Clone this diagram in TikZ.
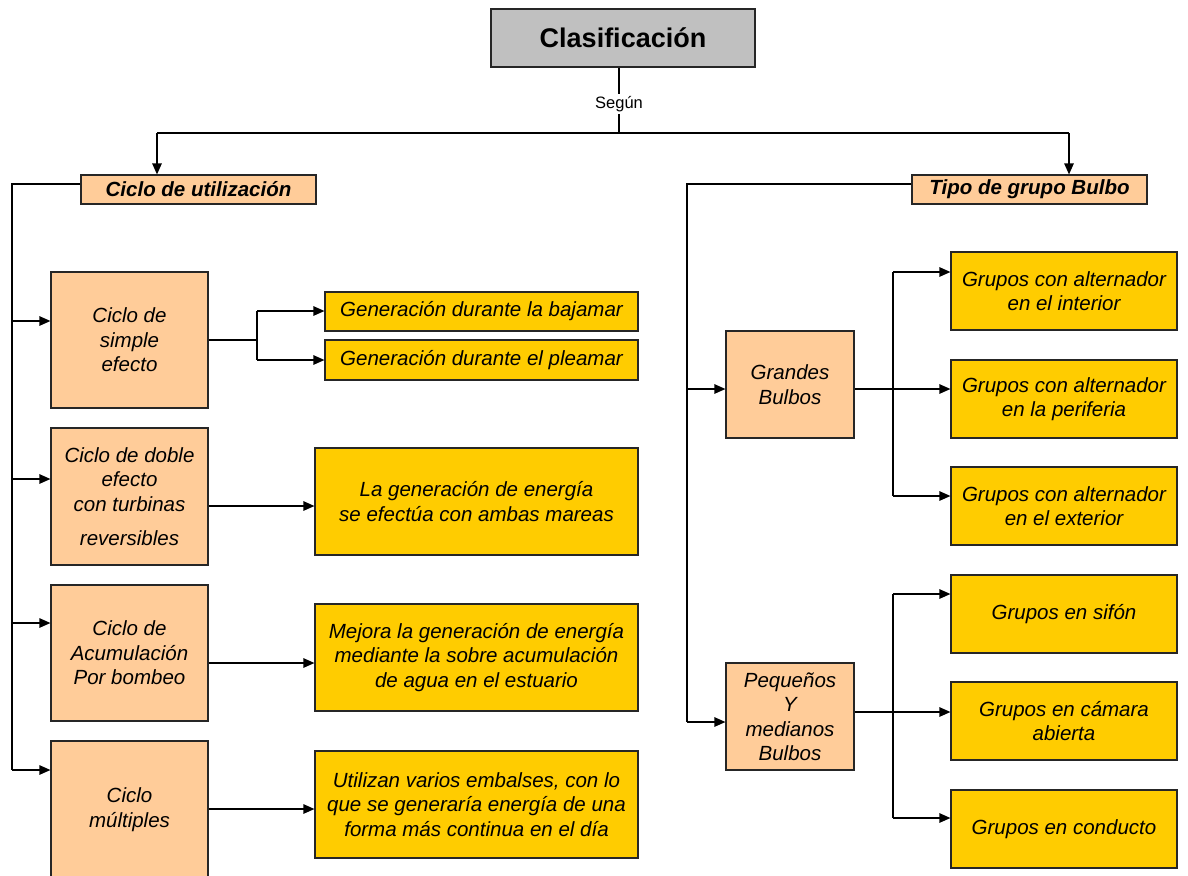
\documentclass[tikz,border=0pt]{standalone}
\usepackage{fontspec}
\setmainfont{Liberation Sans}
\usetikzlibrary{arrows.meta}
\definecolor{peach}{HTML}{FFCC99}
\definecolor{gold}{HTML}{FFCC00}
\definecolor{titlegray}{HTML}{C0C0C0}

\begin{document}
\begin{tikzpicture}[x=1pt,y=-1pt,
  box/.style={draw=black!85,line width=1.2pt,inner sep=0pt,align=center,
    font=\fontsize{20.5}{24.5}\selectfont\itshape},
  cyclebox/.style={box,fill=peach},
  resbox/.style={box,fill=gold},
  headbox/.style={box,fill=peach,font=\fontsize{20.5}{24.5}\selectfont\bfseries\itshape},
  ln/.style={line width=1.2pt},
  arr/.style={ln,-{Triangle[length=11pt,width=9.5pt]}}]
\useasboundingbox (0,0) rectangle (1188,875);
\begin{scope}
\clip (0,0) rectangle (1188,875);

% title and first split
\node[box,fill=titlegray,minimum width=264pt,minimum height=58pt,
      font=\fontsize{27}{30}\selectfont\bfseries] (title) at (623,38) {Clasificación};
\node[font=\fontsize{16.5}{18}\selectfont,inner sep=2pt] (segun) at (619,104) {Según};
\node[headbox,minimum width=235pt,minimum height=29pt] (util) at (198.5,189.5) {Ciclo de utilización};
\node[headbox,minimum width=235pt,minimum height=29pt] (tipo) at (1029.5,189.5) {Tipo de grupo Bulbo};

\coordinate (hub) at (619,133);
\coordinate (hubL) at (157,133);
\coordinate (hubR) at (1069,133);
\draw[ln] (title.south -| hub) -- (segun.north);
\draw[ln] (segun.south) -- (hub);
\draw[ln] (hubL) -- (hubR);
\draw[arr] (hubL) -- (util.north -| hubL);
\draw[arr] (hubR) -- (tipo.north -| hubR);

% operating cycles
\node[cyclebox,minimum width=157pt,minimum height=136pt] (c1) at (129.5,340) {Ciclo de\\simple\\efecto};
\node[cyclebox,minimum width=157pt,minimum height=137pt] (c2) at (129.5,496.5) {Ciclo de doble\\efecto\\con turbinas\\[10pt]reversibles};
\node[cyclebox,minimum width=157pt,minimum height=136pt] (c3) at (129.5,653) {Ciclo de\\Acumulación\\Por bombeo};
\node[cyclebox,minimum width=157pt,minimum height=137pt] (c4) at (129.5,809.5) {Ciclo\\múltiples};

\node[resbox,minimum width=313pt,minimum height=39pt] (r1a) at (481.5,311.5) {Generación durante la bajamar};
\node[resbox,minimum width=313pt,minimum height=40pt] (r1b) at (481.5,360) {Generación durante el pleamar};
\node[resbox,minimum width=323pt,minimum height=107pt] (r2) at (476.5,501.5) {La generación de energía\\se efectúa con ambas mareas};
\node[resbox,minimum width=323pt,minimum height=107pt] (r3) at (476.5,657.5) {Mejora la generación de energía\\mediante la sobre acumulación\\de agua en el estuario};
\node[resbox,minimum width=323pt,minimum height=107pt] (r4) at (476.5,804.5) {Utilizan varios embalses, con lo\\que se generaría energía de una\\forma más continua en el día};

\coordinate (lt) at (12,184);
\draw[ln] (util.west |- lt) -- (lt) -- (12,770);
\foreach \n/\y in {c1/321,c2/479,c3/623,c4/770}
  \draw[arr] (12,\y) -- (\n.west |- 0,\y);

\coordinate (s1) at (257,340);
\draw[ln] (c1.east |- s1) -- (s1);
\draw[ln] (257,311) -- (257,360);
\draw[arr] (257,311) -- (r1a.west |- 0,311);
\draw[arr] (257,360) -- (r1b.west |- 0,360);
\draw[arr] (c2.east |- 0,506) -- (r2.west |- 0,506);
\draw[arr] (c3.east |- 0,663) -- (r3.west |- 0,663);
\draw[arr] (c4.east |- 0,809) -- (r4.west |- 0,809);

% bulb unit types
\node[cyclebox,minimum width=128pt,minimum height=107pt] (gb) at (790,384.5) {Grandes\\Bulbos};
\node[cyclebox,minimum width=128pt,minimum height=107pt] (pb) at (790,716.5) {Pequeños\\Y\\medianos\\Bulbos};

\node[resbox,minimum width=226pt,minimum height=78pt] (g1) at (1064,291) {Grupos con alternador\\en el interior};
\node[resbox,minimum width=226pt,minimum height=78pt] (g2) at (1064,399) {Grupos con alternador\\en la periferia};
\node[resbox,minimum width=226pt,minimum height=78pt] (g3) at (1064,506) {Grupos con alternador\\en el exterior};
\node[resbox,minimum width=226pt,minimum height=78pt] (g4) at (1064,614) {Grupos en sifón};
\node[resbox,minimum width=226pt,minimum height=78pt] (g5) at (1064,721) {Grupos en cámara\\abierta};
\node[resbox,minimum width=226pt,minimum height=78pt] (g6) at (1064,829) {Grupos en conducto};

\coordinate (rt) at (687,184);
\draw[ln] (tipo.west |- rt) -- (rt) -- (687,722);
\draw[arr] (687,389) -- (gb.west |- 0,389);
\draw[arr] (687,722) -- (pb.west |- 0,722);

\draw[ln] (gb.east |- 0,389) -- (893,389);
\draw[ln] (893,272) -- (893,496);
\foreach \n/\y in {g1/272,g2/389,g3/496}
  \draw[arr] (893,\y) -- (\n.west |- 0,\y);

\draw[ln] (pb.east |- 0,712) -- (893,712);
\draw[ln] (893,594) -- (893,818);
\foreach \n/\y in {g4/594,g5/712,g6/818}
  \draw[arr] (893,\y) -- (\n.west |- 0,\y);
\end{scope}
\end{tikzpicture}
\end{document}
